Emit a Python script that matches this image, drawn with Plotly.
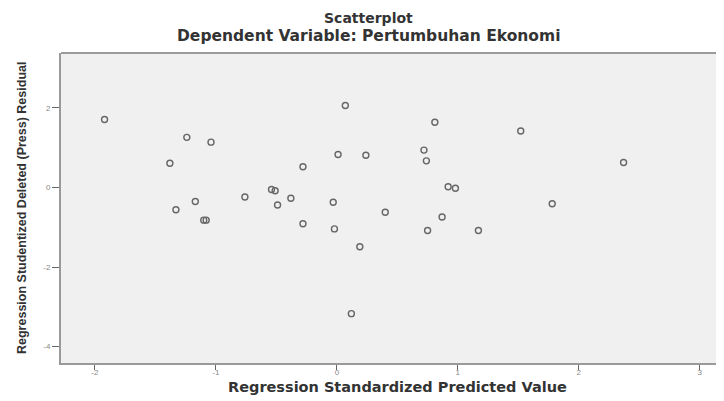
import plotly.graph_objects as go

# Regression Standardized Predicted Value (x) and Studentized Deleted (Press) Residual (y)
predicted = [-1.92, -1.24, -1.04, -1.38, 0.07, 0.01, 0.24, -0.28, -0.54, -0.51,
             -0.76, -0.38, -1.17, -0.49, -0.03, -1.33, 0.40, -1.10, -1.08, -0.28,
             -0.02, 0.19, 0.12, 0.81, 1.52, 0.72, 0.74, 2.37, 0.92, 0.98,
             0.87, 1.78, 0.75, 1.17]
residual = [1.71, 1.26, 1.14, 0.61, 2.06, 0.83, 0.81, 0.52, -0.05, -0.08,
            -0.24, -0.27, -0.35, -0.44, -0.37, -0.56, -0.62, -0.82, -0.82, -0.91,
            -1.04, -1.49, -3.17, 1.64, 1.42, 0.94, 0.67, 0.63, 0.02, -0.02,
            -0.74, -0.41, -1.08, -1.08]

x_ticks = [-2, -1, 0, 1, 2, 3]
y_ticks = [-4, -2, 0, 2]

# the page body has an 8px default margin; the figure is sized to fill the window
OFF = 8
W, H = 724 - OFF, 401 - OFF
L, R, T, B = 61 - OFF, 0, 53 - OFF, 401 - 363
PW, PH = W - L - R, H - T - B

def px(xp):
    return (xp - OFF - L) / PW

def py(yp):
    return (H - B - (yp - OFF)) / PH

fig = go.Figure()
fig.add_trace(go.Scatter(
    x=predicted, y=residual, mode="markers",
    marker=dict(symbol="circle-open", size=6, color="#666666",
                line=dict(width=1.4, color="#666666")),
    showlegend=False, hoverinfo="x+y",
))

fig.update_layout(
    width=W, height=H,
    margin=dict(l=L, r=R, t=T, b=B, pad=0),
    paper_bgcolor="white",
    plot_bgcolor="#f0f0f0",
    xaxis=dict(range=[-2.28, 3.20], tickvals=x_ticks, ticktext=[str(v) for v in x_ticks],
               showgrid=False, zeroline=False, showline=True, linecolor="#9a9a9a", linewidth=2,
               ticks="outside", ticklen=5, tickcolor="#666666", tickwidth=1,
               ticklabelstandoff=-5,
               tickfont=dict(family="Liberation Sans", size=8, color="#888888")),
    yaxis=dict(range=[-4.41, 3.38], tickvals=y_ticks, ticktext=[str(v) for v in y_ticks],
               showgrid=False, zeroline=False, showline=True, linecolor="#9a9a9a", linewidth=2,
               ticks="outside", ticklen=7, tickcolor="#666666", tickwidth=1,
               tickfont=dict(family="Liberation Sans", size=8, color="#888888")),
    shapes=[dict(type="line", xref="paper", yref="paper", x0=0, x1=1.01, y0=1, y1=1,
                 line=dict(color="#9a9a9a", width=2))],
    annotations=[
        dict(text="<b>Scatterplot</b>", xref="paper", yref="paper", x=px(368), y=py(17.5),
             showarrow=False, xanchor="center", yanchor="middle",
             font=dict(family="DejaVu Sans", size=14, color="#333333")),
        dict(text="<b>Dependent Variable: Pertumbuhan Ekonomi</b>", xref="paper", yref="paper",
             x=px(368), y=py(35.5), showarrow=False, xanchor="center", yanchor="middle",
             font=dict(family="DejaVu Sans", size=15.5, color="#333333")),
        dict(text="<b>Regression Standardized Predicted Value</b>", xref="paper", yref="paper",
             x=px(397.5), y=py(387), showarrow=False, xanchor="center", yanchor="middle",
             font=dict(family="DejaVu Sans", size=14.5, color="#333333")),
        dict(text="<b>Regression Studentized Deleted (Press) Residual</b>", xref="paper", yref="paper",
             x=px(21.5), y=py(208.5), showarrow=False, xanchor="center", yanchor="middle",
             textangle=-90, font=dict(family="Liberation Sans", size=12.5, color="#333333")),
    ],
)

fig.write_html("out.html")
